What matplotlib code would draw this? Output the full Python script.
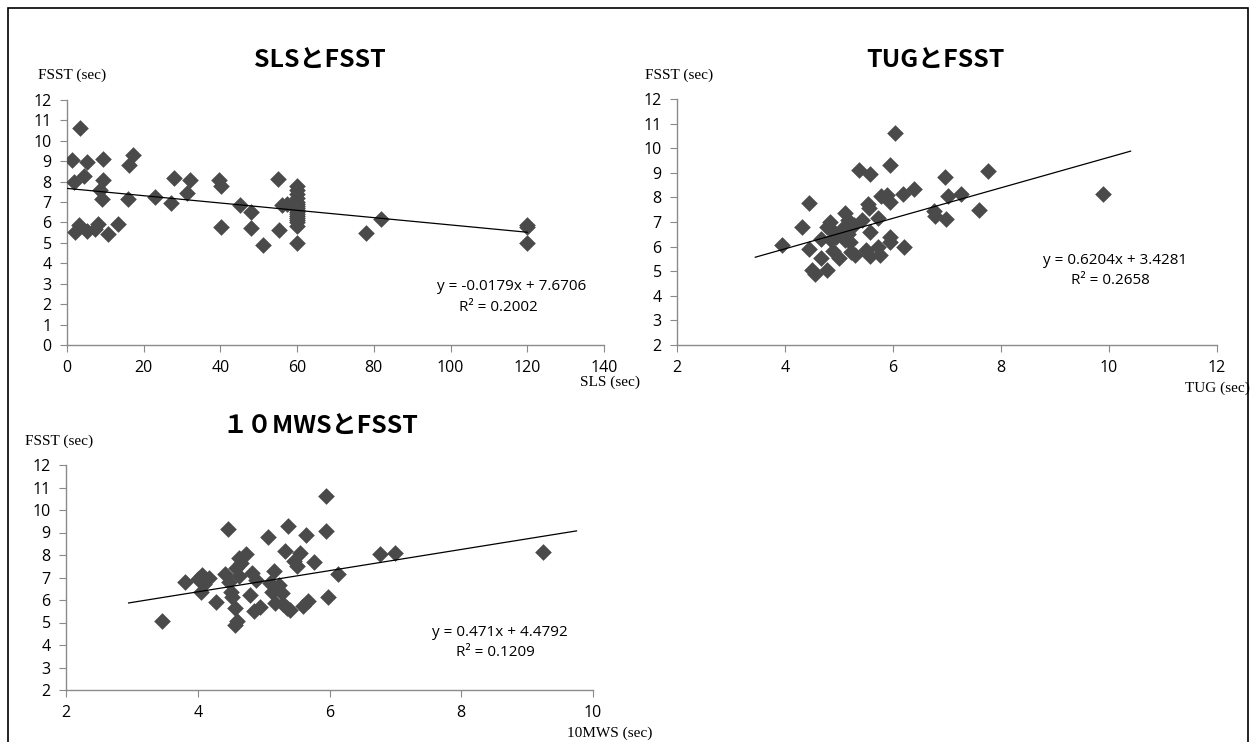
import numpy as np
import matplotlib.pyplot as plt
from matplotlib.patches import Rectangle

# SLS vs FSST
sls_x = [1.3, 1.9, 2.1, 3.4, 3.2, 4.5, 5.3, 5.3, 7.4, 8.2, 8.7, 9.4, 9.4, 9.2, 10.6,
         13.3, 15.8, 16.2, 17.3, 23, 27.2, 27.9, 31.3, 32, 39.5, 40.2, 40.2, 45,
         47.9, 48.1, 51, 54.9, 55.3, 56, 57.3,
         60, 60, 60, 60, 60, 60, 60, 60, 60, 60, 60, 60, 60, 60, 60, 60, 60,
         78, 81.8, 120, 120, 120]
sls_y = [9.07, 8.0, 5.55, 10.65, 5.9, 8.3, 8.95, 5.6, 5.7, 5.95, 7.6, 9.1, 8.1, 7.15, 5.45,
         5.95, 7.17, 8.8, 9.3, 7.25, 6.95, 8.2, 7.45, 8.1, 8.07, 7.8, 5.78, 6.85,
         6.5, 5.72, 4.92, 8.15, 5.65, 6.85, 6.9,
         7.8, 7.6, 7.4, 7.2, 7.0, 6.9, 6.8, 6.7, 6.6, 6.5, 6.4, 6.3, 6.2, 6.1, 6.0, 5.85, 5.0,
         5.5, 6.15, 5.9, 5.8, 5.0]

# TUG vs FSST
tug_x = [3.95, 4.32, 4.45, 4.45, 4.5, 4.55, 4.67, 4.78, 4.66, 4.77, 4.84, 4.88, 5.0,
         4.94, 5.05, 5.12, 5.16, 5.2, 5.23, 5.3, 5.37, 5.42, 5.5, 5.54, 5.57, 5.55,
         5.57, 5.57, 5.73, 5.75, 5.72, 5.78, 5.89, 5.94, 5.94, 5.95, 5.95, 6.04,
         6.18, 6.2, 6.38, 6.75, 6.77, 6.96, 6.98, 7.02, 7.25, 7.6, 7.76, 9.88,
         4.86, 4.98, 5.1, 5.16, 5.28, 4.9, 5.12]
tug_y = [6.08, 6.78, 7.78, 5.9, 5.04, 4.9, 5.54, 5.04, 6.3, 6.81, 7.0, 5.83, 5.52,
         6.4, 6.67, 7.38, 7.08, 6.2, 5.8, 5.65, 9.1, 7.1, 5.85, 7.72, 8.97, 7.55,
         6.6, 5.6, 6.0, 5.64, 7.16, 8.05, 8.08, 9.3, 7.8, 6.4, 6.18, 10.62,
         8.15, 6.0, 8.33, 7.45, 7.25, 8.82, 7.12, 8.07, 8.12, 7.5, 9.07, 8.14,
         6.26, 6.53, 6.8, 6.53, 6.87, 6.6, 6.26]

# 10MWS vs FSST
mws_x = [3.46, 3.8, 4.0, 4.07, 4.05, 4.1, 4.17, 4.27, 4.41, 4.46, 4.48, 4.5, 4.52,
         4.56, 4.57, 4.6, 4.58, 4.62, 4.66, 4.63, 4.74, 4.82, 4.8, 4.85, 4.88, 4.95,
         5.07, 5.1, 5.16, 5.13, 5.18, 5.23, 5.28, 5.29, 5.33, 5.35, 5.37, 5.4, 5.46,
         5.5, 5.55, 5.6, 5.65, 5.67, 5.76, 5.95, 5.95, 5.97, 6.13, 6.76, 6.99, 9.24]
mws_y = [5.06, 6.82, 6.93, 7.12, 6.37, 6.71, 6.97, 5.93, 7.16, 9.14, 6.82, 6.37, 6.15,
         5.63, 4.9, 5.05, 7.42, 7.86, 7.64, 7.05, 8.04, 7.19, 6.23, 5.5, 6.9, 5.7,
         8.81, 6.75, 7.27, 6.37, 5.88, 6.65, 6.29, 5.83, 8.2, 5.63, 9.28, 5.56, 7.75,
         7.5, 8.07, 5.72, 8.9, 5.95, 7.7, 9.07, 10.62, 6.15, 7.15, 8.04, 8.1, 8.14]

# trend lines (slope, intercept, start, end) as given by the chart labels
sls_fit = (-0.0179, 7.6706, 0, 120)
tug_fit = (0.6204, 3.4281, 3.45, 10.4)
mws_fit = (0.471, 4.4792, 2.95, 9.75)

W, H = 1255, 742
fig = plt.figure(figsize=(W / 100, H / 100), dpi=100)
fig.patch.set_facecolor('white')

tick_font = 'Open Sans'
serif = ['Liberation Serif', 'DejaVu Serif']
title_font = ['Noto Sans CJK JP', 'DejaVu Sans']


def px_axes(left, right, top, bottom):
    return fig.add_axes([left / W, 1 - bottom / H, (right - left) / W, (bottom - top) / H])


def panel(ax, x, y, fit, xlim, xticks, ylim, yticks):
    ax.scatter(x, y, marker='D', s=72, color='#4a4a4a', linewidths=0, zorder=3)
    m, b, x0, x1 = fit
    xs = np.array([x0, x1])
    ax.plot(xs, m * xs + b, color='black', lw=0.9, zorder=4)
    ax.set_xlim(*xlim)
    ax.set_ylim(*ylim)
    ax.set_xticks(xticks)
    ax.set_yticks(yticks)
    for s in ['top', 'right']:
        ax.spines[s].set_visible(False)
    for s in ['left', 'bottom']:
        ax.spines[s].set_color('#8a8a8a')
        ax.spines[s].set_linewidth(1.0)
    ax.tick_params(direction='out', length=5, color='#8a8a8a', labelsize=11.5, pad=6)
    for lab in ax.get_xticklabels() + ax.get_yticklabels():
        lab.set_fontfamily(tick_font)
    ax.patch.set_alpha(0)


ax1 = px_axes(67, 604, 100, 345)
panel(ax1, sls_x, sls_y, sls_fit, (0, 140), range(0, 141, 20), (0, 12), range(0, 13))
ax2 = px_axes(677, 1217, 99, 345)
panel(ax2, tug_x, tug_y, tug_fit, (2, 12), range(2, 13, 2), (2, 12), range(2, 13))
ax3 = px_axes(66, 593, 465, 690)
panel(ax3, mws_x, mws_y, mws_fit, (2, 10), range(2, 11, 2), (2, 12), range(2, 13))


def ftext(x, y, s, **kw):
    fig.text(x / W, 1 - y / H, s, **kw)


# titles
ftext(320, 61, 'SLSとFSST', ha='center', va='center', fontsize=18, fontweight='bold', family=title_font)
ftext(935, 61, 'TUGとFSST', ha='center', va='center', fontsize=18, fontweight='bold', family=title_font)
ftext(320, 427, '１０MWSとFSST', ha='center', va='center', fontsize=18, fontweight='bold', family=title_font)

# axis labels
ftext(38, 75, 'FSST (sec)', ha='left', va='center', fontsize=11, family=serif)
ftext(645, 75, 'FSST (sec)', ha='left', va='center', fontsize=11, family=serif)
ftext(25, 441, 'FSST (sec)', ha='left', va='center', fontsize=11, family=serif)
ftext(640, 382, 'SLS (sec)', ha='right', va='center', fontsize=11, family=serif)
ftext(1250, 388, 'TUG (sec)', ha='right', va='center', fontsize=11, family=serif)
ftext(652, 733, '10MWS (sec)', ha='right', va='center', fontsize=11, family=serif)

# equations
ftext(512, 287, 'y = -0.0179x + 7.6706', ha='center', va='center', fontsize=11, family=tick_font)
ftext(498, 307, 'R² = 0.2002', ha='center', va='center', fontsize=11, family=tick_font)
ftext(1115, 261, 'y = 0.6204x + 3.4281', ha='center', va='center', fontsize=11, family=tick_font)
ftext(1110, 280, 'R² = 0.2658', ha='center', va='center', fontsize=11, family=tick_font)
ftext(500, 633, 'y = 0.471x + 4.4792', ha='center', va='center', fontsize=11, family=tick_font)
ftext(495, 652, 'R² = 0.1209', ha='center', va='center', fontsize=11, family=tick_font)

# outer frame
fig.patches.append(Rectangle((8 / W, -0.05), (1248 - 8) / W, 1 - 8 / H + 0.05,
                             transform=fig.transFigure, fill=False, edgecolor='black', lw=1.2))

fig.savefig('out.png', dpi=100)
